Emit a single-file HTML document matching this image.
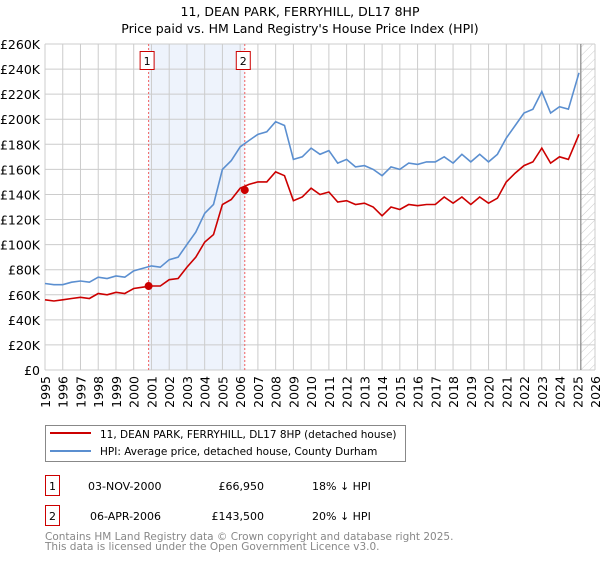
<!DOCTYPE html>
<html><head><meta charset="utf-8"><style>
body{margin:0;background:#fff;font-family:"Liberation Sans","DejaVu Sans",sans-serif}
svg text{font-family:"DejaVu Sans","Liberation Sans",sans-serif}
</style></head><body>
<svg id="c" width="600" height="560" xmlns="http://www.w3.org/2000/svg">
<defs><pattern id="hatch" width="6" height="6" patternUnits="userSpaceOnUse" patternTransform="rotate(45)"><line x1="0" y1="0" x2="0" y2="6" stroke="#ccc" stroke-width="1"/></pattern></defs>
<text x="300" y="16" text-anchor="middle" font-size="12.5">11, DEAN PARK, FERRYHILL, DL17 8HP</text>
<text x="300" y="33" text-anchor="middle" font-size="12.5">Price paid vs. HM Land Registry's House Price Index (HPI)</text>
<g id="plot"></g>
<g>
<rect x="45.5" y="425.5" width="360" height="36" fill="#fff" stroke="#888"/>
<line x1="50" y1="433" x2="91" y2="433" stroke="#cc0000" stroke-width="2"/>
<text x="100" y="438" font-size="10.5">11, DEAN PARK, FERRYHILL, DL17 8HP (detached house)</text>
<line x1="50" y1="451" x2="91" y2="451" stroke="#5b8fd0" stroke-width="2"/>
<text x="100" y="455" font-size="10.5">HPI: Average price, detached house, County Durham</text>
</g>
<g font-size="11">
<rect x="45.5" y="475.5" width="14" height="20" fill="#fff" stroke="#cc0000"/>
<text x="52.5" y="490" text-anchor="middle">1</text>
<text x="88" y="490">03-NOV-2000</text><text x="264" y="490" text-anchor="end">£66,950</text><text x="312" y="490">18% ↓ HPI</text>
<rect x="45.5" y="505.5" width="14" height="20" fill="#fff" stroke="#cc0000"/>
<text x="52.5" y="520" text-anchor="middle">2</text>
<text x="90" y="520">06-APR-2006</text><text x="264" y="520" text-anchor="end">£143,500</text><text x="312" y="520">20% ↓ HPI</text>
</g>
<text x="45" y="540" font-size="10.5" fill="#888">Contains HM Land Registry data © Crown copyright and database right 2025.</text>
<text x="45" y="550" font-size="10.5" fill="#888">This data is licensed under the Open Government Licence v3.0.</text>
</svg>
<script>
const hpiYears=[1995,1995.5,1996,1996.5,1997,1997.5,1998,1998.5,1999,1999.5,2000,2000.5,2001,2001.5,2002,2002.5,2003,2003.5,2004,2004.5,2005,2005.5,2006,2006.5,2007,2007.5,2008,2008.5,2009,2009.5,2010,2010.5,2011,2011.5,2012,2012.5,2013,2013.5,2014,2014.5,2015,2015.5,2016,2016.5,2017,2017.5,2018,2018.5,2019,2019.5,2020,2020.5,2021,2021.5,2022,2022.5,2023,2023.5,2024,2024.5,2025.1];
const hpiValues=[69,68,68,70,71,70,74,73,75,74,79,81,83,82,88,90,100,110,125,132,160,167,178,183,188,190,198,195,168,170,177,172,175,165,168,162,163,160,155,162,160,165,164,166,166,170,165,172,166,172,166,172,185,195,205,208,222,205,210,208,237];
const propValues=[56,55,56,57,58,57,61,60,62,61,65,66,67,67,72,73,82,90,102,108,132,136,145,148,150,150,158,155,135,138,145,140,142,134,135,132,133,130,123,130,128,132,131,132,132,138,133,138,132,138,133,137,150,157,163,166,177,165,170,168,188];
const saleYears=[2000.84,2006.26];
const salePrices=[66.95,143.5];
const saleLabels=["1","2"];
const yTicks=[0,20,40,60,80,100,120,140,160,180,200,220,240,260];
const xTicks=[];for(let y=1995;y<=2026;y++)xTicks.push(y);
const dataEnd=2025.2;
const X=v=>45+(v-1995)*550/31, Y=v=>370-v*326/260;
const NS="http://www.w3.org/2000/svg", g=document.getElementById('plot');
function mk(t,a){const e=document.createElementNS(NS,t);for(const k in a)e.setAttribute(k,a[k]);g.appendChild(e);return e;}
let e=mk('rect',{x:X(saleYears[0]),y:Y(260),width:X(saleYears[1])-X(saleYears[0]),height:Y(0)-Y(260),fill:'#eef3fc'});


e=mk('rect',{x:X(dataEnd),y:Y(260),width:X(2026)-X(dataEnd),height:Y(0)-Y(260),fill:'url(#hatch)'});


yTicks.forEach(v=>{
 e=mk('line',{x1:45,x2:595,y1:Y(v),y2:Y(v),stroke:'#ccc'});
 
 
 e=mk('text',{x:40,y:Y(v)+5,'text-anchor':'end','font-size':'12.5'});e.textContent=v?'£'+v+'K':'£0';
 
 
});
xTicks.forEach(v=>{
 e=mk('line',{x1:X(v),x2:X(v),y1:Y(260),y2:Y(0),stroke:'#ccc'});
 
 
 e=mk('text',{x:0,y:0,'font-size':'12.5','text-anchor':'end',transform:`translate(${X(v)+5},376) rotate(-90)`});e.textContent=v;
 
 
});
e=mk('line',{x1:X(dataEnd),x2:X(dataEnd),y1:Y(260),y2:Y(0),stroke:'#888','stroke-width':1.2});


saleYears.forEach((s,i)=>{
 e=mk('line',{x1:X(s),x2:X(s),y1:Y(260),y2:Y(0),stroke:'#f06060','stroke-dasharray':'2,2'});
 
 
 e=mk('rect',{x:X(s)-8.5,y:51.5,width:14,height:18,fill:'#fff',stroke:'#cc0000'});
 
 
 e=mk('text',{x:X(s)-1.5,y:65,'text-anchor':'middle','font-size':'11'});e.textContent=saleLabels[i];
 
 
});
const pts=(vals)=>hpiYears.map((y,i)=>X(y).toFixed(1)+','+Y(vals[i]).toFixed(1)).join(' ');
e=mk('polyline',{points:pts(hpiValues),fill:'none',stroke:'#5b8fd0','stroke-width':1.6});


e=mk('polyline',{points:pts(propValues),fill:'none',stroke:'#cc0000','stroke-width':1.6});


saleYears.forEach((s,i)=>{
 e=mk('circle',{cx:X(s),cy:Y(salePrices[i]),r:4,fill:'#cc0000'});
 
 
});
</script>
</body></html>
